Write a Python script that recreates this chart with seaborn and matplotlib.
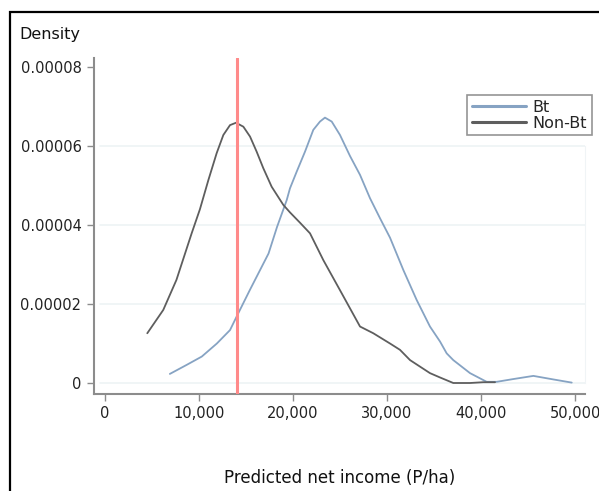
import seaborn as sns
import matplotlib.pyplot as plt
import pandas as pd
from matplotlib.patches import Rectangle
from matplotlib.ticker import FuncFormatter

# estimated density curves
bt_income = [6900, 8700, 10300, 11900, 13300, 14000, 15400, 17400, 18300, 19330,
             19680, 20390, 21280, 22160, 22870, 23400, 24120, 25000, 26060, 27130,
             28190, 29260, 30320, 31740, 33160, 34570, 35640, 36350, 37050, 38830,
             40600, 41670, 43440, 45570, 47700, 49650]
bt_density = [0.23e-5, 0.46e-5, 0.67e-5, 1.00e-5, 1.34e-5, 1.68e-5, 2.35e-5, 3.28e-5, 3.95e-5, 4.63e-5,
              4.93e-5, 5.35e-5, 5.86e-5, 6.41e-5, 6.62e-5, 6.72e-5, 6.62e-5, 6.28e-5, 5.75e-5, 5.27e-5,
              4.68e-5, 4.17e-5, 3.68e-5, 2.86e-5, 2.10e-5, 1.43e-5, 1.05e-5, 0.75e-5, 0.58e-5, 0.25e-5,
              0.03e-5, 0.03e-5, 0.10e-5, 0.18e-5, 0.09e-5, 0.01e-5]

nonbt_income = [4500, 6200, 7600, 9220, 10100, 11000, 11880, 12590, 13300, 13940,
                14720, 15430, 16130, 16840, 17730, 18970, 19680, 20740, 21810, 23230,
                25000, 27130, 28540, 30320, 31380, 32450, 34570, 35640, 37050, 38830,
                40240, 41490]
nonbt_density = [1.26e-5, 1.85e-5, 2.61e-5, 3.79e-5, 4.40e-5, 5.14e-5, 5.82e-5, 6.28e-5, 6.53e-5, 6.59e-5,
                 6.49e-5, 6.24e-5, 5.86e-5, 5.44e-5, 4.97e-5, 4.51e-5, 4.32e-5, 4.06e-5, 3.79e-5, 3.11e-5,
                 2.35e-5, 1.43e-5, 1.26e-5, 1.00e-5, 0.84e-5, 0.58e-5, 0.25e-5, 0.14e-5, 0.00, 0.00,
                 0.02e-5, 0.02e-5]

reference_income = 14000
x_ticks = [0, 10000, 20000, 30000, 40000, 50000]
y_ticks = [0, 0.00002, 0.00004, 0.00006, 0.00008]
grid_levels = [0, 0.00002, 0.00004, 0.00006]

df = pd.concat([
    pd.DataFrame({"income": bt_income, "density": bt_density, "group": "Bt"}),
    pd.DataFrame({"income": nonbt_income, "density": nonbt_density, "group": "Non-Bt"}),
])

sns.set_style("white")
plt.rcParams['font.family'] = ['DejaVu Sans']

fig = plt.figure(figsize=(5.99, 4.91), dpi=100)
ax = fig.add_axes([0.1569, 0.1976, 0.8197, 0.6843])

for y in grid_levels:
    ax.axhline(y, xmin=0.012, xmax=1, color='#edf3f5', lw=1.2, zorder=0)

sns.lineplot(data=df, x="income", y="density", hue="group", sort=False,
             palette={"Bt": "#86a3c3", "Non-Bt": "#5e5e5e"}, linewidth=1.3, ax=ax)
ax.axvline(reference_income, color='#ff8a8a', lw=2.2, zorder=3)

ax.set_xlim(-1170, 51060)
ax.set_ylim(-2.78e-6, 8.23e-5)
ax.set_xticks(x_ticks)
ax.set_yticks(y_ticks)
ax.xaxis.set_major_formatter(FuncFormatter(lambda v, p: f"{v:,.0f}"))
ax.yaxis.set_major_formatter(FuncFormatter(lambda v, p: "0" if v == 0 else f"{v:.5f}"))
ax.tick_params(axis='both', direction='out', length=5, width=1, color='#8c8c8c',
               labelsize=10.5, labelcolor='#222222', pad=4, left=True, bottom=True)

ax.spines['top'].set_visible(False)
ax.spines['right'].set_color('#f0f4f6')
ax.spines['right'].set_bounds(0, 0.00006)
for side in ['left', 'bottom']:
    ax.spines[side].set_color('#8c8c8c')
    ax.spines[side].set_linewidth(1.5)

ax.set_xlabel('Predicted net income (P/ha)', fontsize=12, labelpad=34, color='#111111')
ax.set_ylabel('Density', fontsize=11.5, rotation=0, ha='left', va='center', color='#111111')
ax.yaxis.set_label_coords(-0.151, 1.071)

leg = ax.legend(loc='upper right', bbox_to_anchor=(1.014, 0.89), borderaxespad=0,
                fontsize=11.5, frameon=True, fancybox=False, edgecolor='#7a7a7a',
                labelspacing=0.05, handlelength=3.4, handletextpad=0.4, borderpad=0.3)
leg.get_frame().set_linewidth(1.2)
for line in leg.get_lines():
    line.set_linewidth(2.2)

fig.add_artist(Rectangle((10 / 599, -0.2), 1.2, 1.2 - 12 / 491, transform=fig.transFigure,
                         fill=False, edgecolor='black', lw=1.6, clip_on=False))

plt.savefig("out.png", dpi=100)
